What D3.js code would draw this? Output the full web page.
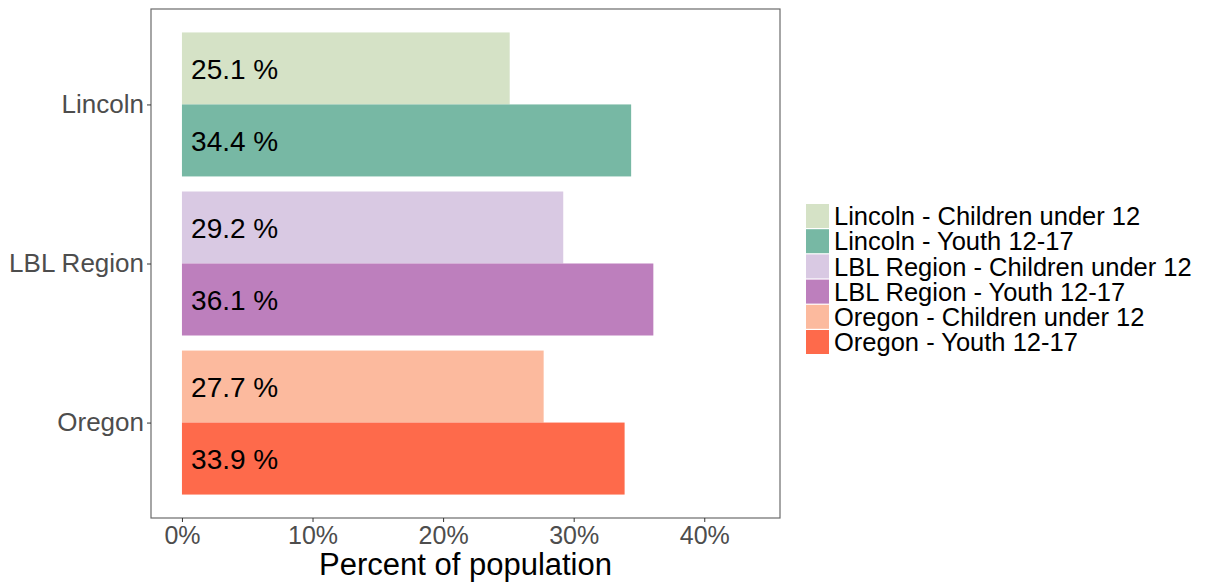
<!DOCTYPE html>
<html><head><meta charset="utf-8">
<script src="https://cdn.jsdelivr.net/npm/d3@7"></script>
<style>body{margin:0;background:#fff;} svg{display:block;font-family:"Liberation Sans",Arial,sans-serif;}</style>
</head><body>
<svg id="c" width="1212" height="584"></svg>
<script>
const regions = ["Lincoln", "LBL Region", "Oregon"];
const groups = ["Children under 12", "Youth 12-17"];
const childrenValues = [25.1, 29.2, 27.7];
const youthValues = [34.4, 36.1, 33.9];
const xTicks = [0, 10, 20, 30, 40];
const legendLabels = ["Lincoln - Children under 12", "Lincoln - Youth 12-17", "LBL Region - Children under 12", "LBL Region - Youth 12-17", "Oregon - Children under 12", "Oregon - Youth 12-17"];
const colors = ["#d5e2c6", "#77b8a4", "#d9c9e3", "#bd7fbd", "#fcba9e", "#fe6a4b"];

const svg = d3.select("#c");
const P = {l:151, r:780, t:9, b:518};

const x = d3.scaleLinear().domain([-2.37, 45.8]).range([P.l, P.r]);
const yPoint = d3.scalePoint().domain(regions).range([P.t, P.b]).padding(0.6);
const sub = d3.scaleBand().domain(groups).range([-72, 72]);

const data = [];
regions.forEach((r, i) => {
  data.push({r, g: groups[0], v: childrenValues[i], c: colors[i*2]});
  data.push({r, g: groups[1], v: youthValues[i], c: colors[i*2+1]});
});

svg.append("rect").attr("x", P.l).attr("y", P.t).attr("width", P.r-P.l).attr("height", P.b-P.t)
  .attr("fill", "#fff");

svg.selectAll("rect.bar").data(data).enter().append("rect").attr("class","bar")
  .attr("x", x(0))
  .attr("y", d => yPoint(d.r) + sub(d.g))
  .attr("width", d => x(d.v) - x(0))
  .attr("height", sub.bandwidth())
  .attr("fill", d => d.c);

svg.selectAll("text.lab").data(data).enter().append("text").attr("class","lab")
  .attr("x", x(0.7))
  .attr("y", d => yPoint(d.r) + sub(d.g) + sub.bandwidth()/2)
  .attr("dy", "0.36em")
  .attr("font-size", 28)
  .attr("fill", "#000")
  .text(d => d.v.toFixed(1) + " %");

svg.append("rect").attr("x", P.l).attr("y", P.t).attr("width", P.r-P.l).attr("height", P.b-P.t)
  .attr("fill", "none").attr("stroke", "#6b6b6b").attr("stroke-width", 1.2);

// x axis
const xa = svg.append("g").attr("transform", `translate(0,${P.b})`)
  .call(d3.axisBottom(x).tickValues(xTicks).tickFormat(d => d + "%").tickSize(4).tickPadding(4));
xa.select(".domain").remove();
xa.selectAll("line").attr("stroke", "#333");
xa.selectAll("text").attr("font-size", 25).attr("fill", "#4d4d4d").attr("font-family", "Liberation Sans, Arial, sans-serif");

// y axis
const ya = svg.append("g").attr("transform", `translate(${P.l},0)`)
  .call(d3.axisLeft(yPoint).tickSize(4).tickPadding(3));
ya.select(".domain").remove();
ya.selectAll("line").attr("stroke", "#333");
ya.selectAll("text").attr("font-size", 26).attr("fill", "#4d4d4d").attr("font-family", "Liberation Sans, Arial, sans-serif");

svg.append("text").attr("x", (P.l+P.r)/2).attr("y", 575).attr("text-anchor", "middle")
  .attr("font-size", 31).attr("fill", "#000").text("Percent of population");

// legend
const lg = svg.append("g").attr("transform", "translate(806,204)");
legendLabels.forEach((t, i) => {
  const g = lg.append("g").attr("transform", `translate(0,${i*25.2})`);
  g.append("rect").attr("x", 0).attr("y", 0).attr("width", 23).attr("height", 24).attr("fill", colors[i]);
  g.append("text").attr("x", 28).attr("y", 12).attr("dy", "0.36em").attr("font-size", 25.5).attr("fill", "#000").text(t);
});
</script>
</body></html>
